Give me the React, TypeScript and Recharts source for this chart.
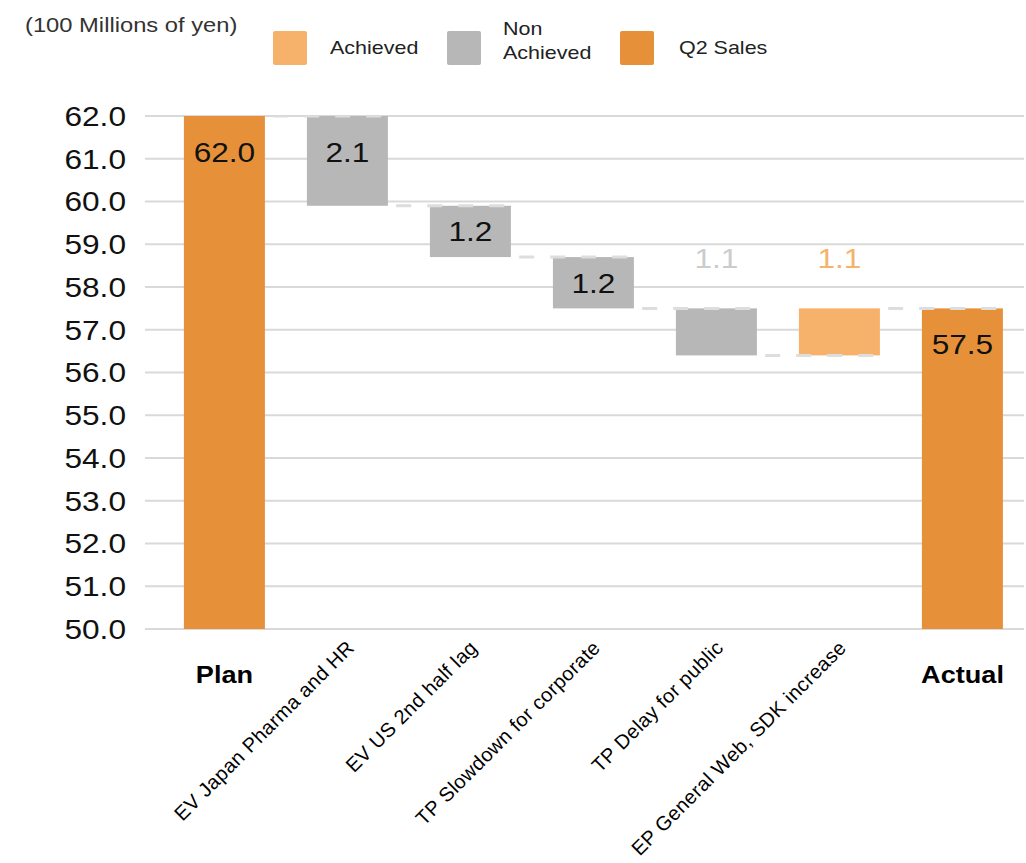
import { Bar, BarChart, CartesianGrid, LabelList, XAxis, YAxis } from "recharts";

// categories, kinds and deltas
const categories = [
  "Plan",
  "EV Japan Pharma and HR",
  "EV US 2nd half lag",
  "TP Slowdown for corporate",
  "TP Delay for public",
  "EP General Web, SDK increase",
  "Actual",
];
const kinds = ["total", "non", "non", "non", "non", "achieved", "total"];
const values = [62.0, -2.1, -1.2, -1.2, -1.1, 1.1, 57.5];
const yTicks = [50, 51, 52, 53, 54, 55, 56, 57, 58, 59, 60, 61, 62];

const Y_MIN = 50;
const Y_MAX = 62;

const COLORS: Record<string, string> = {
  total: "#E6913A",
  non: "#B7B7B7",
  achieved: "#F6B26B",
};
const OUTSIDE_LABEL: Record<string, string> = {
  total: "#222222",
  non: "#CCCCCC",
  achieved: "#F6B26B",
};

const GAP_PCT = 0.17;
const GAP_RATIO = (2 * GAP_PCT) / (1 - 2 * GAP_PCT);
const FONT = "'Liberation Sans', Arial, sans-serif";
// the source image is a bit wider than tall, text included
const SX = 1.13;

// waterfall rows: [low, high] range plus where the step starts
let running = 0;
const data = categories.map((name, i) => {
  const kind = kinds[i];
  const v = values[i];
  const start = i === 0 ? v : running;
  const end = kind === "total" ? v : running + v;
  running = end;
  const low = kind === "total" ? Y_MIN : Math.min(start, end);
  const high = kind === "total" ? v : Math.max(start, end);
  return {
    name,
    kind,
    start,
    range: [low, high],
    high,
    label: kind === "total" ? v.toFixed(1) : Math.abs(v).toFixed(1),
  };
});

function WaterfallBar(props: any) {
  const { x, y, width, height, payload, index } = props;
  const top = Math.min(y, y + height);
  const h = Math.abs(height);
  const startY = Math.abs(payload.start - payload.high) < 1e-6 ? top : top + h;
  const gap = width * GAP_RATIO;
  return (
    <g>
      <rect x={x} y={top} width={width} height={h} fill={COLORS[payload.kind]} />
      {index > 0 && (
        <line
          x1={x - gap}
          x2={x + width}
          y1={startY}
          y2={startY}
          stroke="#DDDDDD"
          strokeWidth={3}
          strokeDasharray="15 16"
          strokeDashoffset={-8}
        />
      )}
    </g>
  );
}

function StepLabel(props: any) {
  const { x, y, width, height, value, index } = props;
  const top = Math.min(y, y + height);
  const h = Math.abs(height);
  const kind = kinds[index];
  const inside = h >= 48;
  const ly = inside ? top + Math.min(36, h / 2) : top - 50;
  return (
    <text
      transform={`translate(${x + width / 2} ${ly}) scale(${SX} 1)`}
      textAnchor="middle"
      dominantBaseline="central"
      fontFamily={FONT}
      fontSize={28}
      fill={inside ? "#111" : OUTSIDE_LABEL[kind]}
    >
      {value}
    </text>
  );
}

function CategoryTick(props: any) {
  const { x, y, payload, index } = props;
  if (kinds[index] === "total") {
    return (
      <text
        transform={`translate(${x} ${y + 46}) scale(${SX} 1)`}
        textAnchor="middle"
        dominantBaseline="central"
        fontFamily={FONT}
        fontWeight="bold"
        fontSize={24}
        fill="#000"
      >
        {payload.value}
      </text>
    );
  }
  const ax = x + 8;
  const ay = y + 20;
  return (
    <text
      x={ax}
      y={ay}
      textAnchor="end"
      transform={`rotate(-45, ${ax}, ${ay})`}
      fontFamily={FONT}
      fontSize={20}
      letterSpacing={0.4}
      fill="#000"
    >
      {payload.value}
    </text>
  );
}

function ValueTick(props: any) {
  const { x, y, payload } = props;
  return (
    <text
      transform={`translate(${x - 19} ${y}) scale(${SX} 1)`}
      textAnchor="end"
      dominantBaseline="central"
      fontFamily={FONT}
      fontSize={28}
      fill="#111"
    >
      {Number(payload.value).toFixed(1)}
    </text>
  );
}

const legendItems = [
  { key: "achieved", left: 273, text: ["Achieved"], textLeft: 330 },
  { key: "non", left: 447, text: ["Non", "Achieved"], textLeft: 503 },
  { key: "total", left: 620, text: ["Q2 Sales"], textLeft: 679 },
];

const stretched = {
  transform: `scaleX(${SX})`,
  transformOrigin: "left center",
  whiteSpace: "nowrap" as const,
};

export default function App() {
  return (
    <div
      style={{
        position: "absolute",
        left: 0,
        top: 0,
        width: 1026,
        height: 863,
        background: "#fff",
        overflow: "hidden",
      }}
    >
      <div
        style={{
          position: "absolute",
          left: 25,
          top: 12,
          fontFamily: FONT,
          fontSize: 21,
          color: "#333",
          lineHeight: "26px",
          ...stretched,
        }}
      >
        (100 Millions of yen)
      </div>
      {legendItems.map((it) => (
        <div key={it.key}>
          <div
            style={{
              position: "absolute",
              left: it.left,
              top: 31,
              width: 34,
              height: 34,
              borderRadius: 2,
              background: COLORS[it.key],
            }}
          />
          <div
            style={{
              position: "absolute",
              left: it.textLeft,
              top: it.text.length > 1 ? 17 : 36,
              fontFamily: FONT,
              fontSize: 19,
              lineHeight: "24px",
              color: "#222",
              ...stretched,
            }}
          >
            {it.text.map((t) => (
              <div key={t}>{t}</div>
            ))}
          </div>
        </div>
      ))}
      <BarChart
        width={1026}
        height={863}
        data={data}
        margin={{ top: 116, right: 2, bottom: 0, left: 0 }}
        barCategoryGap={`${GAP_PCT * 100}%`}
        style={{ position: "absolute", left: 0, top: 0 }}
      >
        <CartesianGrid vertical={false} stroke="#D9D9D9" strokeWidth={2} />
        <XAxis
          dataKey="name"
          height={234}
          interval={0}
          axisLine={false}
          tickLine={false}
          tickSize={0}
          tickMargin={0}
          padding={{ left: 18, right: 0 }}
          tick={<CategoryTick />}
        />
        <YAxis
          width={145}
          domain={[Y_MIN, Y_MAX]}
          ticks={yTicks}
          allowDataOverflow
          axisLine={false}
          tickLine={false}
          tickSize={0}
          tickMargin={0}
          tick={<ValueTick />}
        />
        <Bar dataKey="range" shape={<WaterfallBar />} isAnimationActive={false}>
          <LabelList dataKey="label" content={<StepLabel />} />
        </Bar>
      </BarChart>
    </div>
  );
}
